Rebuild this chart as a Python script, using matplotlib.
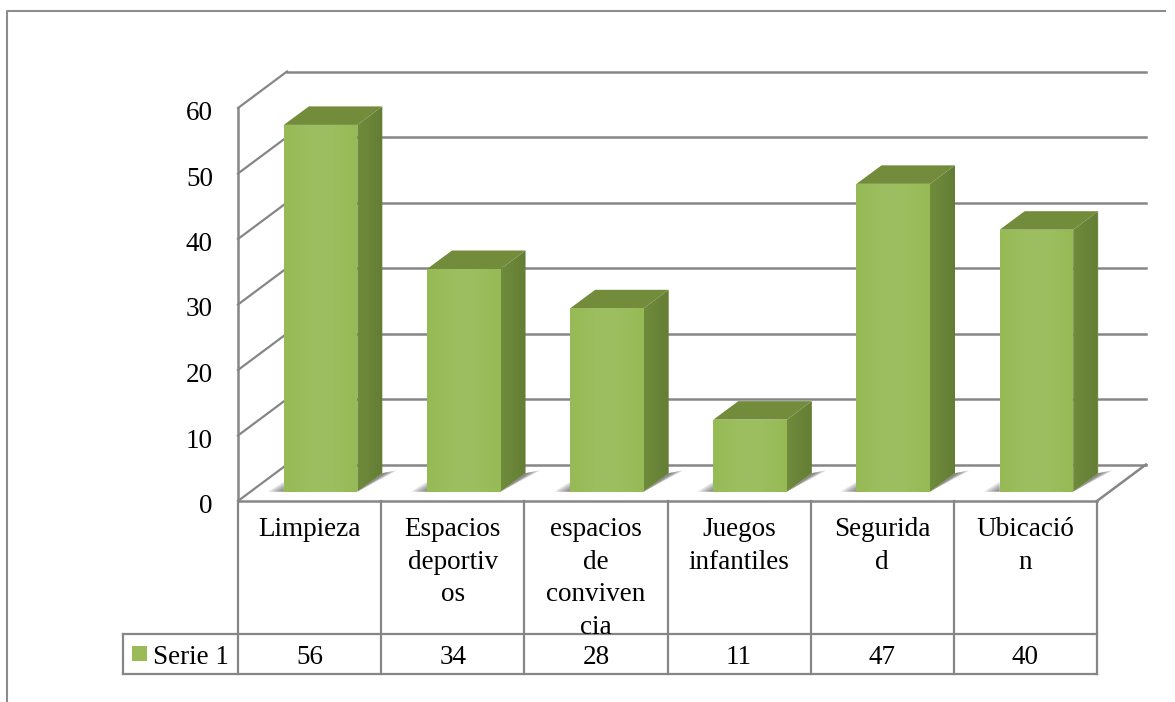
import matplotlib
matplotlib.use('Agg')
import matplotlib.pyplot as plt
from matplotlib.patches import Polygon
import numpy as np

categories = ['Limpieza', 'Espacios\ndeportiv\nos', 'espacios\nde\nconviven\ncia',
              'Juegos\ninfantiles', 'Segurida\nd', 'Ubicació\nn']
values = [56, 34, 28, 11, 47, 40]
series_name = 'Serie 1'
y_ticks = [0, 10, 20, 30, 40, 50, 60]

W, H = 1175, 702
GRID = '#868686'
FONT = 'Liberation Serif'
FS = 19.5

plt.rcParams['font.family'] = FONT
fig = plt.figure(figsize=(W / 100, H / 100), dpi=100)

# axes sit on the front plane of the fake 3d box
x0, x1, y0, y60 = 238, 1097, 501, 108
ax = fig.add_axes([x0 / W, 1 - y0 / H, (x1 - x0) / W, (y0 - y60) / H])
ax.axis('off')

ux = (x1 - x0) / 6      # pixels per category
uy = (y0 - y60) / 60    # pixels per unit
depth_x = 49 / ux       # depth of the box in data units
depth_y = 36.5 / uy

# walls
for t in y_ticks:
    ax.plot([depth_x, 6 + depth_x], [t + depth_y, t + depth_y], color=GRID, lw=1.8, clip_on=False, zorder=1)
    ax.plot([0, depth_x], [t, t + depth_y], color=GRID, lw=1.6, clip_on=False, zorder=1)
ax.plot([0, 0], [0, 60], color=GRID, lw=1.8, clip_on=False, zorder=1)
ax.plot([6, 6 + depth_x], [0, depth_y], color=GRID, lw=1.8, clip_on=False, zorder=1)

# gradients that give the bars their glossy look
across = np.linspace(0, 1, 40)
glow = np.zeros((1, 40, 4))
glow[..., :3] = 1.0
glow[..., 3] = 0.07 * np.sin(across * np.pi)
shade = np.zeros((1, 40, 4))
shade[..., 3] = 0.10 * across

# bars
bar_w = 73.5 / ux
off_x = 11 / ux
off_y = 9.3 / uy
d_x = 25 / ux
d_y = 18.5 / uy
for i, v in enumerate(values):
    left = i + 0.5 - bar_w / 2 + off_x
    right = left + bar_w
    bot = off_y
    top = v + off_y
    # soft floor shadow, stacked see through shapes
    for k in [1.0, 0.85, 0.7, 0.55, 0.4, 0.25]:
        ax.add_patch(Polygon([[right, bot], [right + d_x, bot + d_y],
                              [right + d_x + 15 * k / ux, bot + (18.5 + 3 * k) / uy]],
                             closed=True, fc='#404040', ec='none', alpha=0.15, clip_on=False, zorder=2))
        ax.add_patch(Polygon([[left, bot], [left, bot + 10 * k / uy], [left - 16 * k / ux, bot]],
                             closed=True, fc='#404040', ec='none', alpha=0.13, clip_on=False, zorder=2))
    ax.add_patch(Polygon([[right, bot], [right + d_x, bot + d_y], [right + d_x, top + d_y], [right, top]],
                         closed=True, fc='#6f8b3b', ec='none', clip_on=False, zorder=3))
    ax.imshow(shade, extent=[right, right + d_x, bot, top + d_y], aspect='auto', zorder=3.1, clip_on=True)
    ax.images[-1].set_clip_path(Polygon([[right, bot], [right + d_x, bot + d_y], [right + d_x, top + d_y], [right, top]],
                                        closed=True, transform=ax.transData))
    ax.add_patch(Polygon([[left, top], [right, top], [right + d_x, top + d_y], [left + d_x, top + d_y]],
                         closed=True, fc='#728c3c', ec='none', clip_on=False, zorder=3.2))
    ax.bar(i + 0.5 + off_x, v, width=bar_w, bottom=off_y, color='#96ba55', zorder=4, clip_on=False)
    ax.imshow(glow, extent=[left, right, bot, top], aspect='auto', zorder=4.1, clip_on=False)

ax.set_xlim(0, 6)
ax.set_ylim(0, 60)

# value axis labels
tick_x = -(x0 - 213) / ux
for t in y_ticks:
    ax.text(tick_x, t - 5.5 / uy, str(t), ha='right', va='center', fontsize=FS, clip_on=False)

# data table under the chart
row1 = -(634 - y0) / uy
row2 = -(674 - y0) / uy
row_text = (row1 + row2) / 2 - 3.5 / uy
legend_left = -(x0 - 123) / ux
ax.plot([0, 6], [0, 0], color=GRID, lw=1.8, clip_on=False)
ax.plot([legend_left, 6], [row1, row1], color=GRID, lw=1.6, clip_on=False)
ax.plot([legend_left, 6], [row2, row2], color=GRID, lw=1.6, clip_on=False)
ax.plot([legend_left, legend_left], [row1, row2], color=GRID, lw=1.6, clip_on=False)
for i in range(7):
    ax.plot([i, i], [0, row2], color=GRID, lw=1.6, clip_on=False)
for i, c in enumerate(categories):
    ax.text(i + 0.5, -(517 - y0) / uy, c, ha='center', va='top', fontsize=FS, linespacing=1.40, clip_on=False)
    ax.text(i + 0.5, row_text, str(values[i]), ha='center', va='center', fontsize=FS, clip_on=False)
ax.text(-(x0 - 153) / ux, row_text, series_name, ha='left', va='center', fontsize=FS, clip_on=False)
ax.add_patch(Polygon([[-(x0 - 132) / ux, -(646 - y0) / uy], [-(x0 - 147) / ux, -(646 - y0) / uy],
                      [-(x0 - 147) / ux, -(661 - y0) / uy], [-(x0 - 132) / ux, -(661 - y0) / uy]],
                     closed=True, fc='#9bbb59', ec='none', clip_on=False))

# frame of the chart area
fig.add_artist(plt.Line2D([7 / W, 7 / W, 1165 / W], [0, 1 - 11 / H, 1 - 11 / H], color='#8c8c8c', lw=1.5))

fig.savefig('out.png', dpi=100, facecolor='white')
